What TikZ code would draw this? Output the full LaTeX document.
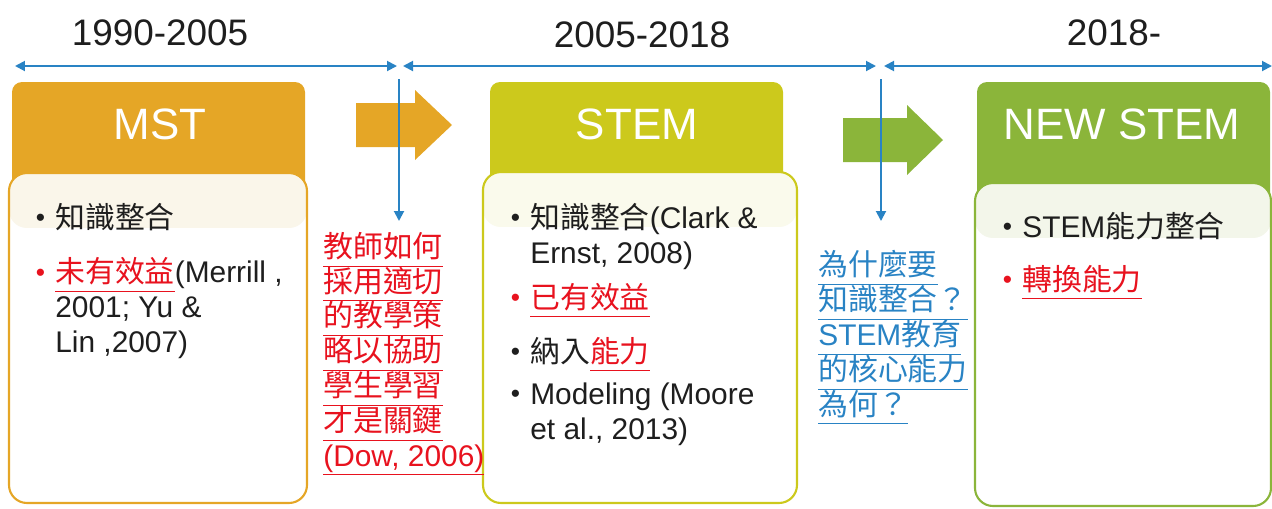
\documentclass[tikz,border=0pt]{standalone}
\usepackage{fontspec}
\setmainfont{Liberation Sans}
\newfontfamily\cjk{Noto Sans CJK TC}
\usetikzlibrary{arrows.meta}
\definecolor{mstorange}{RGB}{229,166,38}
\definecolor{stemyellow}{RGB}{204,201,28}
\definecolor{newgreen}{RGB}{139,181,58}
\definecolor{lineblue}{RGB}{41,131,196}
\definecolor{notered}{RGB}{232,18,30}
\definecolor{textblack}{RGB}{30,30,30}
\definecolor{mstcream}{RGB}{250,246,234}
\definecolor{stemcream}{RGB}{250,250,236}
\definecolor{newcream}{RGB}{243,246,234}
\newcommand\zh[1]{{\cjk #1}}
\newcommand\ul[1]{\underline{#1\vphantom{(}}}
\newcommand\bul[1][textblack]{\llap{\textcolor{#1}{\raisebox{0.8pt}{\fontsize{15}{15}\selectfont\textbullet}}\hspace{5.8pt}}}
\tikzset{
	timeline/.style={lineblue, line width=1.1pt, {Triangle[length=2mm,width=2mm]}-{Triangle[length=2mm,width=2mm]}},
	drop/.style={lineblue, line width=1.1pt, -{Triangle[length=2mm,width=2mm]}},
	year/.style={font=\fontsize{21}{25}\selectfont, text=textblack, inner sep=0pt},
	title/.style={font=\fontsize{25}{30}\selectfont, text=white, inner sep=0pt},
	item/.style={font={\fontsize{17}{19.8}\selectfont\lineskiplimit-10pt}, align=left, anchor=base west, inner sep=0pt, text=textblack},
	panel/.style={fill=white, line width=1.2pt, rounded corners=0.36cm},
	band/.style={path picture={\fill[#1] (path picture bounding box.north west) rectangle ([yshift=-1.1cm]path picture bounding box.north east);}},
}

\begin{document}
\begin{tikzpicture}[x=0.02cm, y=-0.02cm]
			%%%%% START %%%%%
			\useasboundingbox (0,0) rectangle (1272,508);
			
			\node[year] (y1) at (160,33) {1990-2005};
			\node[year] (y2) at (642,35) {2005-2018};
			\node[year] (y3) at (1114,33) {2018-};
			
			% MST (multi-line items sit on their last baseline)
			\fill[mstorange, rounded corners=0.2cm] (12,82) rectangle (305,240);
			\draw[panel, draw=mstorange, band=mstcream] (9,173) rectangle (307,503);
			\node[title] (mst) at (160,124) {MST};
			\node[item] (m1) at (55,228) {\bul\zh{知識整合}};
			\node[item] (m2) at (55,352) {\bul[notered]\textcolor{notered}{\ul{\zh{未有效益}}}(Merrill ,\\2001; Yu \&\\Lin ,2007)};
			
			% STEM
			\fill[stemyellow, rounded corners=0.2cm] (490,82) rectangle (783,240);
			\draw[panel, draw=stemyellow, band=stemcream] (483,172) rectangle (797,503);
			\node[title] (stem) at (637,124) {STEM};
			\node[item] (s1) at (530,263) {\bul\zh{知識整合}(Clark \&\\Ernst, 2008)};
			\node[item] (s2) at (530,308) {\bul[notered]\textcolor{notered}{\ul{\zh{已有效益}}}};
			\node[item] (s3) at (530,362) {\bul\zh{納入}\textcolor{notered}{\ul{\zh{能力}}}};
			\node[item] (s4) at (530,439) {\bul Modeling (Moore\\et al., 2013)};
			
			% NEW STEM
			\fill[newgreen, rounded corners=0.2cm] (977,82) rectangle (1270,240);
			\draw[panel, draw=newgreen, band=newcream] (975,183) rectangle (1271,506);
			\node[title] (newstem) at (1122,124) {NEW STEM};
			\node[item] (n1) at (1022,237) {\bul STEM\zh{能力整合}};
			\node[item] (n2) at (1022,290) {\bul[notered]\textcolor{notered}{\ul{\zh{轉換能力}}}};
			
			% questions between the periods
			\node[item, text=notered] (how) at (323,466) {\ul{\zh{教師如何}}\\\ul{\zh{採用適切}}\\\ul{\zh{的教學策}}\\\ul{\zh{略以協助}}\\\ul{\zh{學生學習}}\\\ul{\zh{才是關鍵}}\\\ul{(Dow, 2006)}};
			\node[item, text=lineblue] (why) at (818,415) {\ul{\zh{為什麼要}}\\\ul{\zh{知識整合？}}\\\ul{STEM\zh{教育}}\\\ul{\zh{的核心能力}}\\\ul{\zh{為何？}}};
			
			% block arrows
			\fill[mstorange] (356,103) -- (415,103) -- (415,90) -- (452,125) -- (415,160) -- (415,147) -- (356,147) -- cycle;
			\fill[newgreen] (843,118) -- (907,118) -- (907,105) -- (943,140) -- (907,175) -- (907,162) -- (843,162) -- cycle;
			
			% time line
			\coordinate (t0) at (15,66);
			\coordinate (t1) at (397,66);
			\coordinate (t2) at (403,66);
			\coordinate (t3) at (876,66);
			\coordinate (t4) at (884,66);
			\coordinate (t5) at (1272,66);
			\draw[timeline] (t0) -- (t1);
			\draw[timeline] (t2) -- (t3);
			\draw[timeline] (t4) -- (t5);
			
			\coordinate (d1) at (399,79);
			\coordinate (d1e) at (399,221);
			\coordinate (d2) at (881,79);
			\coordinate (d2e) at (881,221);
			\draw[drop] (d1) -- (d1e);
			\draw[drop] (d2) -- (d2e);
			
			%%%%% END %%%%%
\end{tikzpicture}
\end{document}
